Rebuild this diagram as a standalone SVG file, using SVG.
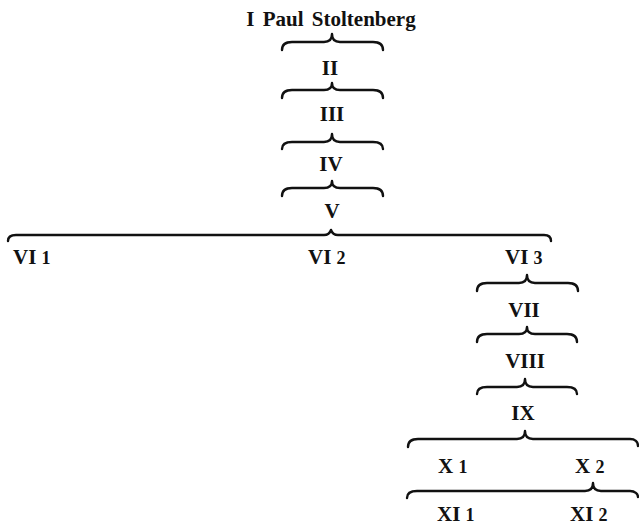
<svg xmlns="http://www.w3.org/2000/svg" width="639" height="526" viewBox="0 0 639 526">
<style>
  text { font-family: "Liberation Serif", "DejaVu Serif", serif; font-weight: bold; font-size: 21px; fill: #111; }
  .c { text-anchor: middle; }
  .d { font-size: 18px; }
  .brace { fill: none; stroke: #111; stroke-width: 2.4; stroke-linecap: round; stroke-linejoin: round; }
</style>
<rect width="639" height="526" fill="#fff"/>
<g id="connectors">
  <path class="brace" d="M282,50 C282,45 285,42 292,42 L324,42 C329,42 332,40 332,34 C332,40 335,42 340,42 L373,42 C380,42 383,45 383,50"/>
  <path class="brace" d="M282,98 C282,93 285,90 292,90 L324,90 C329,90 332,88 332,83 C332,88 335,90 340,90 L373,90 C380,90 383,93 383,98"/>
  <path class="brace" d="M282,149 C282,144 285,142 292,142 L324,142 C329,142 332,140 332,134 C332,140 335,142 340,142 L373,142 C380,142 383,144 383,149"/>
  <path class="brace" d="M282,196 C282,191 285,188 292,188 L324,188 C329,188 332,186 332,181 C332,186 335,188 340,188 L373,188 C380,188 383,191 383,196"/>
  <path class="brace" d="M8,241 C8,237 10,235 16,235 L324,235 C328,235 330,233 331,230 C332,233 334,235 338,235 L544,235 C549,235 551,237 551,241"/>
  <path class="brace" d="M477,291 C477,286 480,283 487,283 L519,283 C524,283 527,281 527,275 C527,281 530,283 535,283 L568,283 C575,283 578,286 578,291"/>
  <path class="brace" d="M477,342 C477,337 480,334 487,334 L519,334 C524,334 527,332 527,327 C527,332 530,334 535,334 L567,334 C574,334 577,337 577,342"/>
  <path class="brace" d="M477,394 C477,389 480,387 487,387 L517,387 C522,387 525,385 525,379 C525,385 528,387 533,387 L567,387 C574,387 577,389 577,394"/>
  <path class="brace" d="M408,447 C408,442 411,439 418,439 L517,439 C522,439 525,437 525,431 C525,437 528,439 533,439 L630,439 C635,439 638,442 638,446"/>
  <path class="brace" d="M407,498 C407,494 410,491 417,491 L585,491 C590,491 593,489 593,483 C593,489 596,491 601,491 L630,491 C635,491 638,494 638,497"/>
</g>
<g id="n1"><text class="c" x="331" y="26" word-spacing="3">I Paul Stoltenberg</text></g>
<g id="n2"><text class="c" x="330" y="75">II</text></g>
<g id="n3"><text class="c" x="332" y="121">III</text></g>
<g id="n4"><text class="c" x="331" y="171">IV</text></g>
<g id="n5"><text class="c" x="332" y="218">V</text></g>
<g id="n6-1"><text x="13" y="264">VI <tspan class="d">1</tspan></text></g>
<g id="n6-2"><text x="308" y="264">VI <tspan class="d">2</tspan></text></g>
<g id="n6-3"><text x="505" y="264">VI <tspan class="d">3</tspan></text></g>
<g id="n7"><text class="c" x="524" y="317">VII</text></g>
<g id="n8"><text class="c" x="525" y="368">VIII</text></g>
<g id="n9"><text class="c" x="523" y="420">IX</text></g>
<g id="n10-1"><text x="438" y="473">X <tspan class="d">1</tspan></text></g>
<g id="n10-2"><text x="575" y="473">X <tspan class="d">2</tspan></text></g>
<g id="n11-1"><text x="437" y="521">XI <tspan class="d">1</tspan></text></g>
<g id="n11-2"><text x="570" y="521">XI <tspan class="d">2</tspan></text></g>
</svg>
